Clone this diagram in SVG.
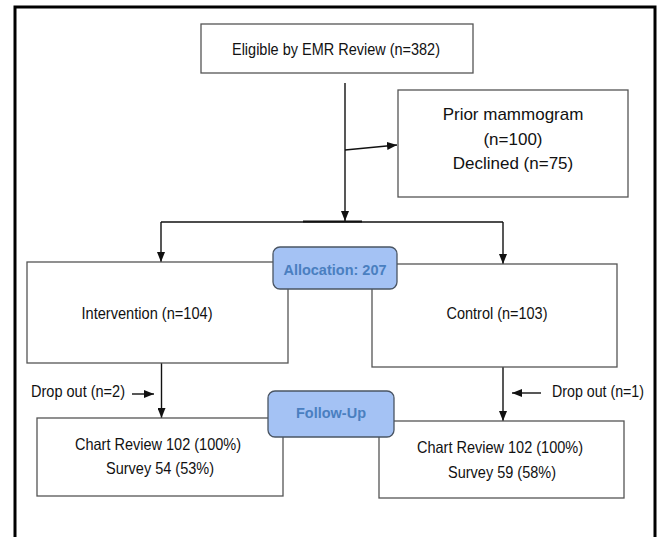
<svg xmlns="http://www.w3.org/2000/svg" width="658" height="537" viewBox="0 0 658 537">
<style>
.box{fill:#fff;stroke:#555;stroke-width:1.3}
.pill{fill:#a4c2f4;stroke:#4a5563;stroke-width:1.3}
.t{font-family:"Liberation Sans",Arial,sans-serif;font-size:16.5px;fill:#111;text-anchor:middle}
.tl{font-family:"Liberation Sans",Arial,sans-serif;font-size:17px;fill:#111;text-anchor:middle}
.b{font-family:"Liberation Sans",Arial,sans-serif;font-size:14.5px;font-weight:bold;fill:#4a7fc0;text-anchor:middle}
.c{fill:none;stroke:#111;stroke-width:1.4}
</style>
<defs>
<marker id="ah" markerUnits="userSpaceOnUse" markerWidth="10" markerHeight="8" viewBox="0 0 10 8" refX="10" refY="4" orient="auto">
<path d="M0,0 L10,4 L0,8 Z" fill="#111"/>
</marker>
</defs>
<rect x="0" y="0" width="658" height="537" fill="#fff"/>
<path d="M15,545 V7 H655 V545" fill="none" stroke="#000" stroke-width="3"/>
<g id="connectors">
<path class="c" d="M345,83 V221" marker-end="url(#ah)"/>
<path class="c" d="M345,150 L397,145" marker-end="url(#ah)"/>
<path class="c" d="M161,222 H503"/>
<path d="M303,221.5 H362" stroke="#111" stroke-width="2" fill="none"/>
<path class="c" d="M161,222 V262" marker-end="url(#ah)"/>
<path class="c" d="M503,222 V264" marker-end="url(#ah)"/>
<path class="c" d="M161.5,363 V418" marker-end="url(#ah)"/>
<path class="c" d="M503,367 V421" marker-end="url(#ah)"/>
<path class="c" d="M132,394 H154" marker-end="url(#ah)"/>
<path class="c" d="M541,393 H512" marker-end="url(#ah)"/>
</g>
<g id="eligible">
<rect class="box" x="201" y="24" width="272" height="49"/>
<text class="t" x="336" y="55" textLength="208" lengthAdjust="spacingAndGlyphs">Eligible by EMR Review (n=382)</text>
</g>
<g id="prior">
<rect class="box" x="398" y="90" width="230" height="107"/>
<text class="tl" x="513" y="120">Prior mammogram</text>
<text class="tl" x="513" y="145">(n=100)</text>
<text class="tl" x="513" y="169">Declined (n=75)</text>
</g>
<g id="intervention">
<rect class="box" x="27" y="262" width="261" height="101"/>
<text class="t" x="147" y="319" textLength="131" lengthAdjust="spacingAndGlyphs">Intervention (n=104)</text>
</g>
<g id="control">
<rect class="box" x="372" y="264" width="245" height="103"/>
<text class="t" x="497" y="319" textLength="101" lengthAdjust="spacingAndGlyphs">Control (n=103)</text>
</g>
<g id="allocation">
<rect class="pill" x="273" y="247" width="124" height="42" rx="7"/>
<text class="b" x="335" y="275">Allocation: 207</text>
</g>
<g id="dropout-left">
<text class="t" x="78" y="397" textLength="94" lengthAdjust="spacingAndGlyphs">Drop out (n=2)</text>
</g>
<g id="dropout-right">
<text class="t" x="598" y="397" textLength="92" lengthAdjust="spacingAndGlyphs">Drop out (n=1)</text>
</g>
<g id="followup-left">
<rect class="box" x="37" y="418" width="246" height="78"/>
<text class="t" x="158" y="450" textLength="166" lengthAdjust="spacingAndGlyphs">Chart Review 102 (100%)</text>
<text class="t" x="160" y="474" textLength="108" lengthAdjust="spacingAndGlyphs">Survey 54 (53%)</text>
</g>
<g id="followup-right">
<rect class="box" x="379" y="421" width="245" height="77"/>
<text class="t" x="500" y="453" textLength="166" lengthAdjust="spacingAndGlyphs">Chart Review 102 (100%)</text>
<text class="t" x="502" y="478" textLength="108" lengthAdjust="spacingAndGlyphs">Survey 59 (58%)</text>
</g>
<g id="followup">
<rect class="pill" x="268" y="391" width="126" height="46" rx="7"/>
<text class="b" x="331" y="418">Follow-Up</text>
</g>
</svg>
